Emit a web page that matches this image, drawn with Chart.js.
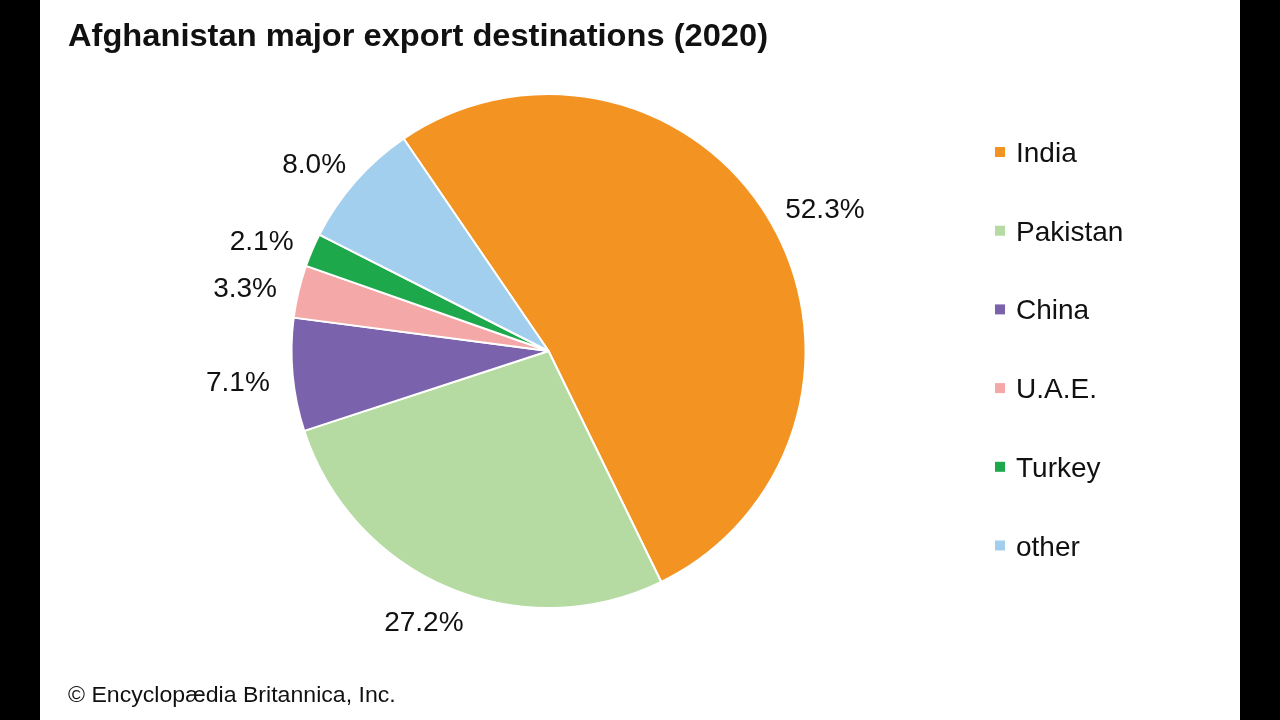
<!DOCTYPE html>
<html lang="en">
<head>
<meta charset="utf-8">
<title>Afghanistan major export destinations (2020)</title>
<script src="https://cdn.jsdelivr.net/npm/chart.js@4.4.0/dist/chart.umd.min.js"></script>
<style>
html, body { margin: 0; padding: 0; background: #000; }
#wrap { width: 1280px; height: 720px; }
</style>
</head>
<body>
<div id="wrap"><canvas id="chart" width="1280" height="720"></canvas></div>
<script>
const titleText = 'Afghanistan major export destinations (2020)';
const sourceText = '\u00a9 Encyclop\u00e6dia Britannica, Inc.';
const countries = ['India', 'Pakistan', 'China', 'U.A.E.', 'Turkey', 'other'];
const shares = [52.3, 27.2, 7.1, 3.3, 2.1, 8.0];
const colors = ['#f39322', '#b5dba2', '#7b62ad', '#f4a9a8', '#1ea84c', '#a3cfee'];

const FONT = '"Liberation Sans", Arial, Helvetica, sans-serif';
const CAP = 0.716; // cap height of Arial/Liberation, in em

// text drawn so that the middle of its capitals sits on y
function capText(ctx, txt, x, y, size, bold, align, sx) {
	ctx.save();
	ctx.font = (bold ? 'bold ' : '') + size + 'px ' + FONT;
	ctx.textBaseline = 'alphabetic';
	ctx.textAlign = align;
	ctx.translate(x, y + size * CAP / 2);
	ctx.scale(sx || 1, 1);
	ctx.fillText(txt, 0, 0);
	ctx.restore();
}

const page = {
	id: 'page',
	beforeDraw(chart) {
		const ctx = chart.ctx;
		ctx.save();
		ctx.fillStyle = '#000';
		ctx.fillRect(0, 0, 1280, 720);
		ctx.fillStyle = '#fff';
		ctx.fillRect(40, 0, 1200, 720);
		ctx.restore();
	},
	afterDraw(chart) {
		const ctx = chart.ctx;
		ctx.save();
		ctx.fillStyle = '#111';
		// title and credit line, squeezed to the widths in the original
		ctx.font = 'bold 32px ' + FONT;
		let w = ctx.measureText(titleText).width;
		capText(ctx, titleText, 68, 35, 32, true, 'left', Math.min(1.05, 700 / w));
		ctx.font = '22px ' + FONT;
		w = ctx.measureText(sourceText).width;
		capText(ctx, sourceText, 68, 694, 22, false, 'left', Math.min(1.05, 332 / w));

		// percent labels: nearest side of the text box sits ~280px out on the mid angle
		const arcs = chart.getDatasetMeta(0).data;
		ctx.font = '28px ' + FONT;
		arcs.forEach((arc, i) => {
			const txt = shares[i].toFixed(1) + '%';
			const half = ctx.measureText(txt).width / 2;
			const mid = (arc.startAngle + arc.endAngle) / 2;
			const dx = Math.cos(mid), dy = Math.sin(mid);
			const r = arc.outerRadius + 23;
			const x = arc.x + dx * r + dx * half;
			const y = arc.y + dy * r + dy * 10 + 3;
			capText(ctx, txt, x, y, 28, false, 'center');
		});

		// legend on the right
		countries.forEach((name, i) => {
			const y = 152 + i * 78.7;
			ctx.fillStyle = colors[i];
			ctx.fillRect(995, y - 5, 10, 10);
			ctx.fillStyle = '#111';
			capText(ctx, name, 1016, y, 28, false, 'left');
		});
		ctx.restore();
	}
};

new Chart(document.getElementById('chart'), {
	type: 'pie',
	data: {
		labels: countries,
		datasets: [{
			data: shares,
			backgroundColor: colors,
			borderColor: '#ffffff',
			borderWidth: 2
		}]
	},
	options: {
		responsive: false,
		animation: false,
		rotation: -34.3,
		layout: {
			padding: { left: 290, right: 473, top: 93, bottom: 111 }
		},
		plugins: {
			legend: { display: false },
			tooltip: { enabled: false }
		}
	},
	plugins: [page]
});
</script>
</body>
</html>
